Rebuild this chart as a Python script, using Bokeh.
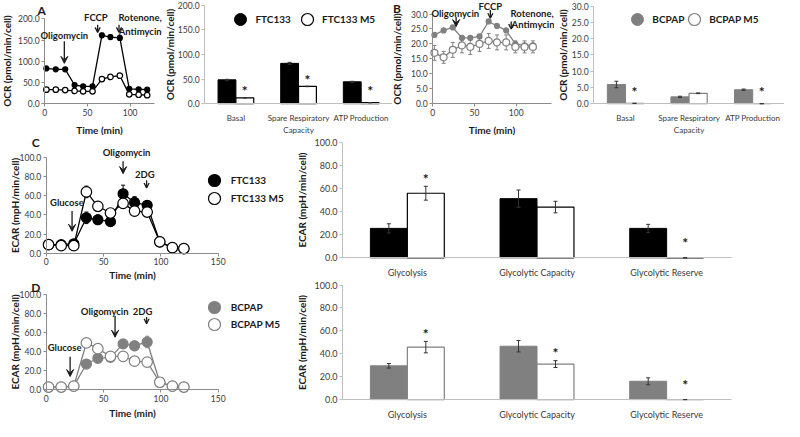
from bokeh.plotting import figure
from bokeh.models import (ColumnDataSource, Whisker, TeeHead, VeeHead, OpenHead, Arrow, Label,
                          Legend, LegendItem, FixedTicker, NumeralTickFormatter, Range1d)
from bokeh.layouts import row, column
from bokeh.core.properties import value
from bokeh.embed import file_html
from bokeh.resources import INLINE

# ---------------- data ----------------
time_min = [2, 13, 24, 35, 45, 56, 67, 77, 88, 99, 110, 120]

ocr_ftc133 = [83, 81, 81, 44, 41, 41, 161, 157, 155, 35, 34, 33]
ocr_ftc133_err = [3, 3, 3, 2, 2, 2, 5, 5, 5, 2, 2, 2]
ocr_ftc133_m5 = [33, 33, 32, 30, 29, 29, 58, 63, 66, 22, 21, 20]
ocr_ftc133_m5_err = [2, 2, 2, 2, 2, 2, 3, 3, 3, 2, 2, 2]

ocr_bcpap = [23, 24.5, 25.5, 22, 22, 22.5, 27.5, 26, 24.5, 20, 19.5, 19.5]
ocr_bcpap_err = [0.4, 0.4, 0.5, 0.5, 0.5, 0.5, 0.6, 0.5, 0.5, 0.5, 0.5, 0.5]
ocr_bcpap_m5 = [17, 15.5, 18, 19.5, 19, 20, 21, 20.5, 20.5, 19, 19, 19]
ocr_bcpap_m5_err = [2.5, 2, 2.5, 2.5, 2.5, 2.5, 2.5, 2.5, 2.5, 2, 2, 2]

ecar_ftc133 = [9, 9, 10, 37, 35, 33, 62, 53, 50, 12, 6, 5]
ecar_ftc133_err = [1, 1, 1, 6, 5, 4, 9, 6, 5, 1, 1, 1]
ecar_ftc133_m5 = [9, 8, 8, 64, 49, 42, 52, 44, 43, 12, 6, 5]
ecar_ftc133_m5_err = [1, 1, 1, 6, 5, 3, 5, 4, 4, 1, 1, 1]

ecar_bcpap = [3, 3, 4, 27, 33, 34, 48, 46, 50, 8, 4, 3]
ecar_bcpap_err = [2, 1, 1, 2, 4, 3, 4, 5, 6, 1, 1, 1]
ecar_bcpap_m5 = [3, 3, 4, 49, 43, 35, 35, 30, 29, 8, 4, 3]
ecar_bcpap_m5_err = [3, 1, 1, 4, 3, 3, 4, 3, 3, 1, 1, 1]

ocr_params = ["Basal", "Spare Respiratory\nCapacity", "ATP Production"]
ocr_bar_ftc133 = [48.5, 82, 44.5]
ocr_bar_ftc133_err = [1, 2, 1]
ocr_bar_ftc133_m5 = [12, 35, 2]
ocr_bar_ftc133_m5_err = [0.5, 0.5, 0.3]
ocr_bar_ftc133_sig = [True, True, True]

ocr_bar_bcpap = [5.9, 2.1, 4.3]
ocr_bar_bcpap_err = [1.0, 0.2, 0.2]
ocr_bar_bcpap_m5 = [0.1, 3.2, 0.0]
ocr_bar_bcpap_m5_err = [0.0, 0.1, 0.0]
ocr_bar_bcpap_sig = [True, False, True]

ecar_params = ["Glycolysis", "Glycolytic Capacity", "Glycolytic Reserve"]
ecar_bar_ftc133 = [25.5, 51.3, 25.5]
ecar_bar_ftc133_err = [4, 7.5, 3.5]
ecar_bar_ftc133_m5 = [56, 44, 0]
ecar_bar_ftc133_m5_err = [6, 5, 0]
ecar_bar_ftc133_sig = [True, False, True]

ecar_bar_bcpap = [29.5, 46.6, 16]
ecar_bar_bcpap_err = [2, 5, 3]
ecar_bar_bcpap_m5 = [45.8, 31, 0]
ecar_bar_bcpap_m5_err = [5, 3, 0]
ecar_bar_bcpap_sig = [True, True, True]

# ---------------- style ----------------
SX = 784 / 800
SY = 421 / 437
FONT = "Lato"
TXT = "#3a3a3a"
DARK = "#1a1a1a"
AXC = "#8c8c8c"
GRAY = "#808080"
BW = 0.285
G = 30  # legend glyph box (px)


def sw(v):
    return int(round(v * SX))


def sh(v):
    return int(round(v * SY))


def full_fig(W, H, x0, x_ppu, y0, y_ppu, tick_size):
    """Figure whose frame fills the canvas; axes are pinned at data 0.
    W, H, x0, y0 in reference pixels; x0/y0 = where the axes cross."""
    xr = Range1d(-x0 / x_ppu, (W - x0) / x_ppu)
    yr = Range1d(-(H - y0) / y_ppu, y0 / y_ppu)
    p = figure(width=sw(W), height=sh(H), x_range=xr, y_range=yr,
               output_backend="svg", toolbar_location=None,
               min_border=0, min_border_left=0, min_border_right=0,
               min_border_top=0, min_border_bottom=0)
    p.frame_align = False
    p.outline_line_color = None
    p.grid.visible = False
    p.background_fill_color = "white"
    p.border_fill_color = "white"
    p.xaxis.fixed_location = 0
    p.yaxis.fixed_location = 0
    for ax in p.axis:
        ax.axis_line_color = AXC
        ax.major_tick_line_color = AXC
        ax.major_tick_out = 3
        ax.major_tick_in = 0
        ax.minor_tick_line_color = None
        ax.major_label_text_font = FONT
        ax.major_label_text_font_size = tick_size
        ax.major_label_text_color = TXT
        ax.major_label_standoff = 2
        ax.axis_label_text_font = FONT
        ax.axis_label_text_font_size = "10px"
        ax.axis_label_text_font_style = "bold"
        ax.axis_label_text_color = DARK
        ax.axis_label_standoff = 1
    return p


def line_fig(W, H, x0, x_ppu, y0, y_top, x_axis_end, ymax, xticks, yticks, ylabel,
             tick_size="9px", ylab_standoff=2, xlab_standoff=3):
    p = full_fig(W, H, x0, x_ppu, y0, (y0 - y_top) / ymax, tick_size)
    p.xaxis.ticker = FixedTicker(ticks=xticks)
    p.yaxis.ticker = FixedTicker(ticks=yticks)
    p.xaxis.bounds = (0, x_axis_end)
    p.yaxis.bounds = (0, ymax)
    p.yaxis.formatter = NumeralTickFormatter(format="0.0")
    p.xaxis.axis_label = "Time (min)"
    p.yaxis.axis_label = ylabel
    p.yaxis.axis_label_standoff = ylab_standoff
    p.xaxis.axis_label_standoff = xlab_standoff
    return p


def add_series(p, y, err, fill, edge, size, line_col):
    src = ColumnDataSource(dict(t=time_min, y=y,
                                lo=[a - b for a, b in zip(y, err)],
                                hi=[a + b for a, b in zip(y, err)]))
    p.add_layout(Whisker(source=src, base="t", lower="lo", upper="hi", line_color=line_col, line_width=1,
                         upper_head=TeeHead(size=4, line_color=line_col, line_width=1),
                         lower_head=TeeHead(size=4, line_color=line_col, line_width=1), level="underlay"))
    p.line("t", "y", source=src, line_color=line_col, line_width=1.3)
    return p.scatter("t", "y", source=src, marker="circle", size=size,
                     fill_color=fill, line_color=edge, line_width=1.2)


def note(p, text, x, y, align="center", size="9.5px"):
    p.add_layout(Label(x=x, y=y, text=text, text_align=align, text_baseline="middle",
                       text_font=FONT, text_font_style="bold", text_font_size=size,
                       text_color=DARK))


def letter(p, text, x, y):
    p.add_layout(Label(x=x, y=y, text=text, text_align="center", text_baseline="middle",
                       text_font=FONT, text_font_style="bold", text_font_size="12px",
                       text_color=DARK))


def arrow(p, x, y0, y1, head=7, open_head=False):
    hd = (OpenHead(size=head, line_color=DARK, line_width=1.3) if open_head
          else VeeHead(size=head, line_color=DARK, fill_color=DARK, line_width=1))
    p.add_layout(Arrow(end=hd, x_start=x, y_start=y0, x_end=x, y_end=y1,
                       line_color=DARK, line_width=1.3))


def bar_fig(W, H, x0, unit, y0, y_top, cats, ymax, yticks, ylabel,
            a, a_err, b, b_err, sig, col_a, col_b_edge,
            tick_size="9px", cat_size="9px", ylab_standoff=1):
    p = full_fig(W, H, x0, unit, y0, (y0 - y_top) / ymax, tick_size)
    n = len(cats)
    centers = [i + 0.5 for i in range(n)]
    p.xaxis.ticker = FixedTicker(ticks=centers)
    p.xaxis.major_label_overrides = {c: lab for c, lab in zip(centers, cats)}
    p.xaxis.bounds = (0, n)
    p.yaxis.ticker = FixedTicker(ticks=yticks)
    p.yaxis.bounds = (0, ymax)
    p.yaxis.formatter = NumeralTickFormatter(format="0.0")
    p.yaxis.axis_label = ylabel
    p.yaxis.axis_label_standoff = ylab_standoff
    p.yaxis.axis_line_color = "#bfbfbf"
    p.yaxis.major_tick_line_color = "#bfbfbf"
    p.xaxis.axis_line_color = "#bfbfbf"
    p.xaxis.major_tick_line_color = None
    p.xaxis.major_label_text_font_size = cat_size
    p.xaxis.major_label_text_color = TXT
    p.xaxis.major_label_standoff = 6
    xa = [c - BW / 2 for c in centers]
    xb = [c + BW / 2 for c in centers]
    src = ColumnDataSource(dict(xa=xa, xb=xb, a=a, b=b,
                                a_lo=[v - e for v, e in zip(a, a_err)], a_hi=[v + e for v, e in zip(a, a_err)],
                                b_lo=[v - e for v, e in zip(b, b_err)], b_hi=[v + e for v, e in zip(b, b_err)]))
    p.vbar(x="xa", top="a", width=BW, source=src, fill_color=col_a, line_color=col_a, line_width=1)
    p.vbar(x="xb", top="b", width=BW, source=src, fill_color="white", line_color=col_b_edge, line_width=1.2)
    for base, lo, hi in (("xa", "a_lo", "a_hi"), ("xb", "b_lo", "b_hi")):
        p.add_layout(Whisker(source=src, base=base, lower=lo, upper=hi, line_color="#333333", line_width=1,
                             upper_head=TeeHead(size=4, line_color="#333333", line_width=1),
                             lower_head=TeeHead(size=4, line_color="#333333", line_width=1),
                             level="overlay"))
    sx = [x for x, s in zip(xb, sig) if s]
    sy = [max(v + e + 0.07 * ymax, 0.13 * ymax) for v, e, s in zip(b, b_err, sig) if s]
    ssrc = ColumnDataSource(dict(x=sx, y=sy, t=["*"] * len(sx)))
    p.text(x="x", y="y", text="t", source=ssrc,
           text_align="center", text_baseline="middle", text_font=value(FONT),
           text_font_size="14px", text_font_style="bold", text_color=DARK)
    # zero-size markers that only serve as legend glyphs
    ra = p.scatter(x="xa", y="a", source=src, marker="circle", size=0,
                   fill_color=col_a, line_color=col_a, line_width=1)
    rb = p.scatter(x="xb", y="b", source=src, marker="circle", size=0,
                   fill_color="white", line_color=col_b_edge, line_width=1.2)
    return p, ra, rb


def legend_item(p, renderer, label, cx, cy, H, standoff=2):
    """single-entry legend; (cx, cy) = glyph centre in reference px from the figure's top-left"""
    vx = cx * SX - G / 2
    vy = sh(H) - (cy * SY + G / 2)
    lg = Legend(items=[LegendItem(label=label, renderers=[renderer])], location=(vx, vy),
                glyph_width=G, glyph_height=G, label_standoff=standoff, padding=0, margin=0,
                border_line_color=None, background_fill_alpha=0,
                label_text_font=FONT, label_text_font_style="bold", label_text_font_size="10px",
                label_text_color=DARK)
    p.add_layout(lg)


# ---------------- Row 1 (ref y 0..140) ----------------
pA = line_fig(165, 140, 45, 0.87, 107, 19, 129, 200, [0, 50, 100],
              [0, 50, 100, 150, 200], "OCR (pmol/min/cell)",
              tick_size="8.5px", ylab_standoff=2, xlab_standoff=5)
add_series(pA, ocr_ftc133, ocr_ftc133_err, "black", "black", 5, "black")
add_series(pA, ocr_ftc133_m5, ocr_ftc133_m5_err, "white", "black", 5.5, "black")
letter(pA, "A", -3.4, 220)
note(pA, "Oligomycin", 23, 160)
arrow(pA, 23, 147, 95)
note(pA, "FCCP", 60, 203)
arrow(pA, 62, 186, 168, head=5, open_head=True)
note(pA, "Rotenone,", 137, 203, align="right")
note(pA, "Antimycin", 137, 169, align="right")
arrow(pA, 87, 186, 168, head=5, open_head=True)

pAb, la1, la2 = bar_fig(235, 140, 43, 64, 107, 5, ocr_params, 200, [0, 50, 100, 150, 200],
                        "OCR (pmol/min/cell)", ocr_bar_ftc133, ocr_bar_ftc133_err,
                        ocr_bar_ftc133_m5, ocr_bar_ftc133_m5_err, ocr_bar_ftc133_sig, "black", "black",
                        tick_size="8.5px", cat_size="8px", ylab_standoff=-1)
legend_item(pAb, la1, "FTC133", 80, 20, 140, standoff=-2)
legend_item(pAb, la2, "FTC133 M5", 148, 20, 140, standoff=-2)

pB = line_fig(165, 140, 41, 0.85, 107, 14, 142, 30, [0, 50, 100],
              [0, 5, 10, 15, 20, 25, 30], "OCR (pmol/min/cell)",
              tick_size="8.5px", ylab_standoff=5, xlab_standoff=5)
add_series(pB, ocr_bcpap, ocr_bcpap_err, GRAY, GRAY, 5, GRAY)
add_series(pB, ocr_bcpap_m5, ocr_bcpap_m5_err, "white", GRAY, 7, GRAY)
letter(pB, "B", -43, 32)
note(pB, "Oligomycin", 27, 30.3)
arrow(pB, 28, 29, 25.8)
note(pB, "FCCP", 69, 32.6)
arrow(pB, 69, 31.3, 28.6, head=5, open_head=True)
note(pB, "Rotenone,", 145, 30.3, align="right")
note(pB, "Antimycin", 146, 26.5, align="right")
arrow(pB, 94, 27.5, 25, head=5, open_head=True)

pBb, lb1, lb2 = bar_fig(235, 140, 40, 65, 107, 6, ocr_params, 30, [0, 5, 10, 15, 20, 25, 30],
                        "OCR (pmol/min/cell)", ocr_bar_bcpap, ocr_bar_bcpap_err,
                        ocr_bar_bcpap_m5, ocr_bar_bcpap_m5_err, ocr_bar_bcpap_sig, GRAY, GRAY,
                        tick_size="8.5px", cat_size="8px", ylab_standoff=0)
legend_item(pBb, lb1, "BCPAP", 85, 20, 140, standoff=-2)
legend_item(pBb, lb2, "BCPAP M5", 143, 20, 140, standoff=-2)

# ---------------- Row 2 (ref y 140..292) ----------------
pC = line_fig(300, 152, 46.7, 1.17, 122.7, 22.7, 150, 100, [0, 50, 100, 150],
              [0, 20, 40, 60, 80, 100], "ECAR (mpH/min/cell)",
              tick_size="8.5px", ylab_standoff=-4, xlab_standoff=0)
rc1 = add_series(pC, ecar_ftc133, ecar_ftc133_err, "black", "black", 10, "black")
rc2 = add_series(pC, ecar_ftc133_m5, ecar_ftc133_m5_err, "white", "black", 10.5, "black")
letter(pC, "C", -9.1, 115.5)
note(pC, "Oligomycin", 70, 104.7)
arrow(pC, 67, 96, 83)
note(pC, "2DG", 86, 81.7)
arrow(pC, 87.5, 76, 68, head=5, open_head=True)
note(pC, "Glucose", 18, 52.7)
arrow(pC, 22.5, 44, 23)
legend_item(pC, rc1, "FTC133", 218, 47, 152)
legend_item(pC, rc2, "FTC133 M5", 218, 65, 152)

pCb, _, _ = bar_fig(500, 152, 49, 132.3, 127.3, 7.3, ecar_params, 100, [0, 20, 40, 60, 80, 100],
                    "ECAR (mpH/min/cell)", ecar_bar_ftc133, ecar_bar_ftc133_err,
                    ecar_bar_ftc133_m5, ecar_bar_ftc133_m5_err, ecar_bar_ftc133_sig, "black", "black",
                    ylab_standoff=3)

# ---------------- Row 3 (ref y 292..437) ----------------
pD = line_fig(300, 145, 46.7, 1.17, 112.3, 13, 150, 100, [0, 50, 100, 150],
              [0, 20, 40, 60, 80, 100], "ECAR (mpH/min/cell)",
              tick_size="8.5px", ylab_standoff=-4, xlab_standoff=2)
rd1 = add_series(pD, ecar_bcpap, ecar_bcpap_err, GRAY, GRAY, 10, GRAY)
rd2 = add_series(pD, ecar_bcpap_m5, ecar_bcpap_m5_err, "white", GRAY, 10.5, GRAY)
letter(pD, "D", -9.1, 107)
note(pD, "Oligomycin", 51, 82)
arrow(pD, 60, 77, 55)
note(pD, "2DG", 84, 82)
arrow(pD, 87.5, 76, 69, head=5, open_head=True)
note(pD, "Glucose", 16, 44.6)
arrow(pD, 20.8, 34.6, 14)
legend_item(pD, rd1, "BCPAP", 218, 27, 145)
legend_item(pD, rd2, "BCPAP M5", 218, 45, 145)

pDb, _, _ = bar_fig(500, 145, 49, 132.3, 122.3, 3.7, ecar_params, 100, [0, 20, 40, 60, 80, 100],
                    "ECAR (mpH/min/cell)", ecar_bar_bcpap, ecar_bar_bcpap_err,
                    ecar_bar_bcpap_m5, ecar_bar_bcpap_m5_err, ecar_bar_bcpap_sig, GRAY, GRAY,
                    ylab_standoff=3)

layout = column(row(pA, pAb, pB, pBb, spacing=0),
                row(pC, pCb, spacing=0),
                row(pD, pDb, spacing=0), spacing=0)

open("out.html", "w").write(file_html(layout, INLINE))
